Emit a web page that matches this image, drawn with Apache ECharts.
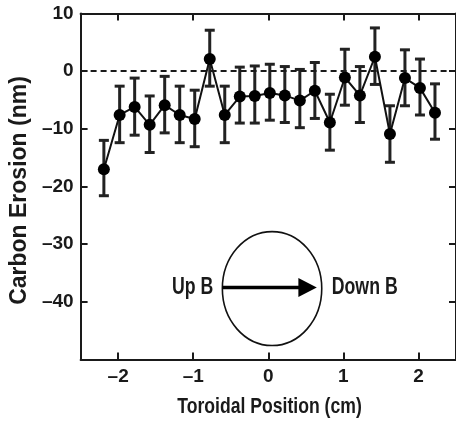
<!DOCTYPE html>
<html><head><meta charset="utf-8">
<script src="https://cdn.jsdelivr.net/npm/echarts@6/dist/echarts.min.js"></script>
<style>html,body{margin:0;padding:0;background:#fff}#c{width:456px;height:423px}</style>
</head><body><div id="c"></div>
<script>
// ---- data ----
const positions = [-2.19,-1.98,-1.78,-1.58,-1.38,-1.18,-0.98,-0.78,-0.58,-0.38,-0.18,0.02,0.22,0.42,0.62,0.82,1.02,1.22,1.42,1.62,1.82,2.02,2.22];
const erosion   = [-17.0,-7.6,-6.2,-9.3,-5.9,-7.6,-8.3,2.1,-7.6,-4.4,-4.3,-3.8,-4.2,-5.1,-3.4,-8.9,-1.1,-4.2,2.5,-10.9,-1.2,-2.9,-7.2];
const errUpper  = [-12.0,-2.6,-1.2,-4.3,-0.9,-2.6,-3.3,7.1,-2.6,0.7,0.9,1.2,0.8,0.3,1.5,-4.0,3.8,0.8,7.5,-6.0,3.7,2.1,-2.2];
const errLower  = [-21.6,-12.4,-11.1,-14.1,-10.7,-12.4,-13.1,-2.6,-12.4,-9.0,-9.0,-8.5,-8.9,-9.8,-8.2,-13.7,-5.9,-8.9,-2.3,-15.8,-6.0,-7.6,-11.8];
const xTicks = [-2,-1,0,1,2];
const yTicks = [-40,-30,-20,-10,0,10];
const xTitle = 'Toroidal Position (cm)';
const yTitle = 'Carbon Erosion (nm)';
const leftLabel = 'Up B';
const rightLabel = 'Down B';

// ---- style ----
const FONT = '"Liberation Sans", Arial, Helvetica, sans-serif';
const INK = '#1a1a1a';
const ANN = { x: 0.05, y: -37.7, rx: 0.662, ry: 9.88 };

const fmt = v => v < 0 ? '\u2013' + (-v) : String(v);

const chart = echarts.init(document.getElementById('c'), null, {renderer: 'canvas'});
const axisLine = {show: true, onZero: false, lineStyle: {color: INK, width: 2}};
const tick = (vals) => ({show: true, inside: true, length: 7, customValues: vals, lineStyle: {color: INK, width: 2}});

chart.setOption({
  animation: false,
  backgroundColor: '#fff',
  grid: {left: 78.6, top: 13.5, width: 381, height: 346, containLabel: false},
  graphic: [{
    type: 'text', x: 269.5, y: 407, scaleX: 0.8, silent: true,
    style: {text: xTitle, align: 'center', verticalAlign: 'middle', fill: INK, font: 'bold 22px ' + FONT}
  }],
  xAxis: [{
    type: 'value', min: -2.5, max: 2.5, position: 'bottom',
    axisLine, axisTick: tick(xTicks), splitLine: {show: false},
    axisLabel: {customValues: xTicks, formatter: fmt, margin: 8, color: INK, fontFamily: FONT, fontWeight: 'bold', fontSize: 19}
  }, {
    type: 'value', min: -2.5, max: 2.5, position: 'top',
    axisLine, axisTick: tick(xTicks), axisLabel: {show: false}, splitLine: {show: false}
  }],
  yAxis: [{
    type: 'value', min: -50, max: 10, position: 'left',
    axisLine, axisTick: tick(yTicks), splitLine: {show: false},
    axisLabel: {customValues: yTicks, formatter: fmt, margin: 7, color: INK, fontFamily: FONT, fontWeight: 'bold', fontSize: 19},
    name: yTitle, nameLocation: 'middle', nameGap: 43, nameRotate: 90,
    nameTextStyle: {color: INK, fontFamily: FONT, fontWeight: 'bold', fontSize: 23, padding: [0, 8, 0, 0]}
  }, {
    type: 'value', min: -50, max: 10, position: 'right',
    axisLine, axisTick: tick(yTicks), axisLabel: {show: false}, splitLine: {show: false}
  }],
  series: [{
    type: 'custom', name: 'error', z: 2,
    data: positions.map((x, i) => [x, errLower[i], errUpper[i]]),
    encode: {x: 0, y: [1, 2]},
    renderItem(params, api) {
      const lo = api.coord([api.value(0), api.value(1)]);
      const hi = api.coord([api.value(0), api.value(2)]);
      const w = 5, st = {stroke: '#222', lineWidth: 3};
      return {type: 'group', children: [
        {type: 'line', shape: {x1: lo[0], y1: lo[1], x2: hi[0], y2: hi[1]}, style: st},
        {type: 'line', shape: {x1: lo[0] - w, y1: lo[1], x2: lo[0] + w, y2: lo[1]}, style: st},
        {type: 'line', shape: {x1: hi[0] - w, y1: hi[1], x2: hi[0] + w, y2: hi[1]}, style: st}
      ]};
    }
  }, {
    type: 'line', name: 'erosion', z: 3,
    data: positions.map((x, i) => [x, erosion[i]]),
    symbol: 'circle', symbolSize: 12,
    itemStyle: {color: '#000'},
    lineStyle: {color: '#111', width: 2},
    markLine: {
      silent: true, symbol: 'none', label: {show: false},
      lineStyle: {color: INK, type: [6, 4], width: 1.8},
      data: [{yAxis: 0}]
    }
  }, {
    type: 'custom', name: 'annotation', z: 4, silent: true,
    data: [[ANN.x, ANN.y]],
    renderItem(params, api) {
      const c = api.coord([ANN.x, ANN.y]);
      const s = api.size([ANN.rx, ANN.ry]);
      const rx = s[0], ry = s[1], cx = c[0], cy = c[1] - 1;
      const tf = 'bold 23px ' + FONT;
      return {type: 'group', children: [
        {type: 'ellipse', shape: {cx, cy: c[1], rx, ry}, style: {fill: 'none', stroke: '#111', lineWidth: 1.6}},
        {type: 'line', shape: {x1: cx - rx, y1: cy, x2: cx + rx * 0.56, y2: cy}, style: {stroke: '#000', lineWidth: 3.5}},
        {type: 'polygon', shape: {points: [[cx + rx * 0.53, cy - 9.5], [cx + rx * 0.9, cy], [cx + rx * 0.53, cy + 9.5]]}, style: {fill: '#000'}},
        {type: 'text', x: cx - rx - 9, y: cy, scaleX: 0.77, style: {text: leftLabel, align: 'right', verticalAlign: 'middle', fill: INK, font: tf}},
        {type: 'text', x: cx + rx + 10, y: cy, scaleX: 0.77, style: {text: rightLabel, align: 'left', verticalAlign: 'middle', fill: INK, font: tf}}
      ]};
    }
  }]
});
</script></body></html>
